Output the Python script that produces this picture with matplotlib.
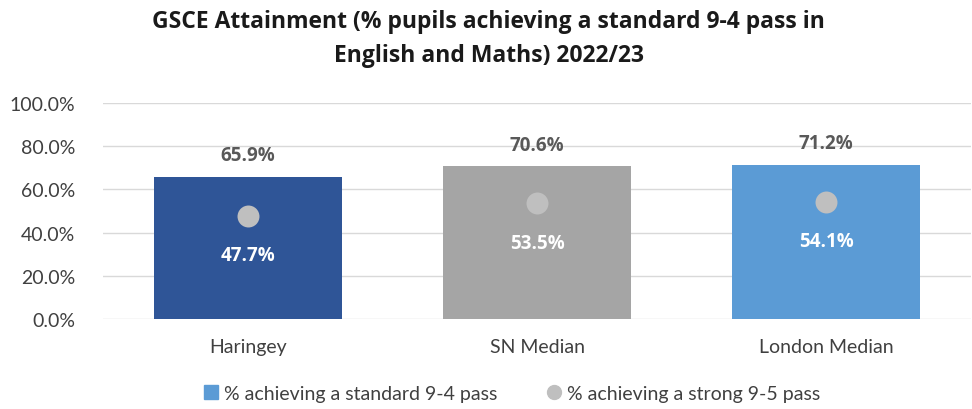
import matplotlib.pyplot as plt
from matplotlib.lines import Line2D
from matplotlib.patches import Patch
from matplotlib.ticker import PercentFormatter

categories = ["Haringey", "SN Median", "London Median"]
standard_pass = [65.9, 70.6, 71.2]
strong_pass = [47.7, 53.5, 54.1]
bar_colors = ["#2F5597", "#A5A5A5", "#5B9BD5"]

fig = plt.figure(figsize=(9.72, 4.10), dpi=100)
ax = fig.add_axes([0.106, 0.2195, 0.893, 0.527])

x = range(len(categories))
ax.bar(x, standard_pass, width=0.65, color=bar_colors, zorder=2)
ax.scatter(x, strong_pass, s=250, color="#BFBFBF", linewidths=0, zorder=3)

for i, (s, g) in enumerate(zip(standard_pass, strong_pass)):
    ax.text(i, s + 5.5, f"{s:.1f}%", ha="center", va="bottom", fontsize=13.5,
            fontweight="bold", color="#595959", family="Open Sans")
    ax.text(i, g - 13.5, f"{g:.1f}%", ha="center", va="top", fontsize=13.5,
            fontweight="bold", color="white", family="Open Sans")

ax.set_xlim(-0.5, 2.5)
ax.set_ylim(0, 100)
ax.set_yticks(range(0, 101, 20))
ax.yaxis.set_major_formatter(PercentFormatter(decimals=1))
ax.set_xticks(list(x))
ax.set_xticklabels(categories)
ax.grid(axis="y", color="#D9D9D9", linewidth=1, zorder=0)
for sp in ax.spines.values():
    sp.set_visible(False)
ax.tick_params(length=0, labelsize=14, labelcolor="#404040")
ax.tick_params(axis="x", pad=14)
ax.tick_params(axis="y", pad=20)
for lbl in ax.get_xticklabels() + ax.get_yticklabels():
    lbl.set_family("Lato")

fig.text(0.503, 0.975,
         "GSCE Attainment (% pupils achieving a standard 9-4 pass in\nEnglish and Maths) 2022/23",
         ha="center", va="top", fontsize=16.5, fontweight="bold", color="#1a1a1a",
         family="Open Sans", linespacing=1.55)

handles = [
    Patch(color="#5B9BD5", label="% achieving a standard 9-4 pass"),
    Line2D([], [], marker="o", linestyle="", markersize=10, color="#BFBFBF",
           label="% achieving a strong 9-5 pass"),
]
fig.legend(handles=handles, loc="lower center", bbox_to_anchor=(0.527, -0.025), ncol=2,
           frameon=False, prop={"family": "Lato", "size": 14}, handlelength=0.7,
           handletextpad=0.3, columnspacing=2.6, labelcolor="#404040")

fig.savefig("out.png", dpi=100)
